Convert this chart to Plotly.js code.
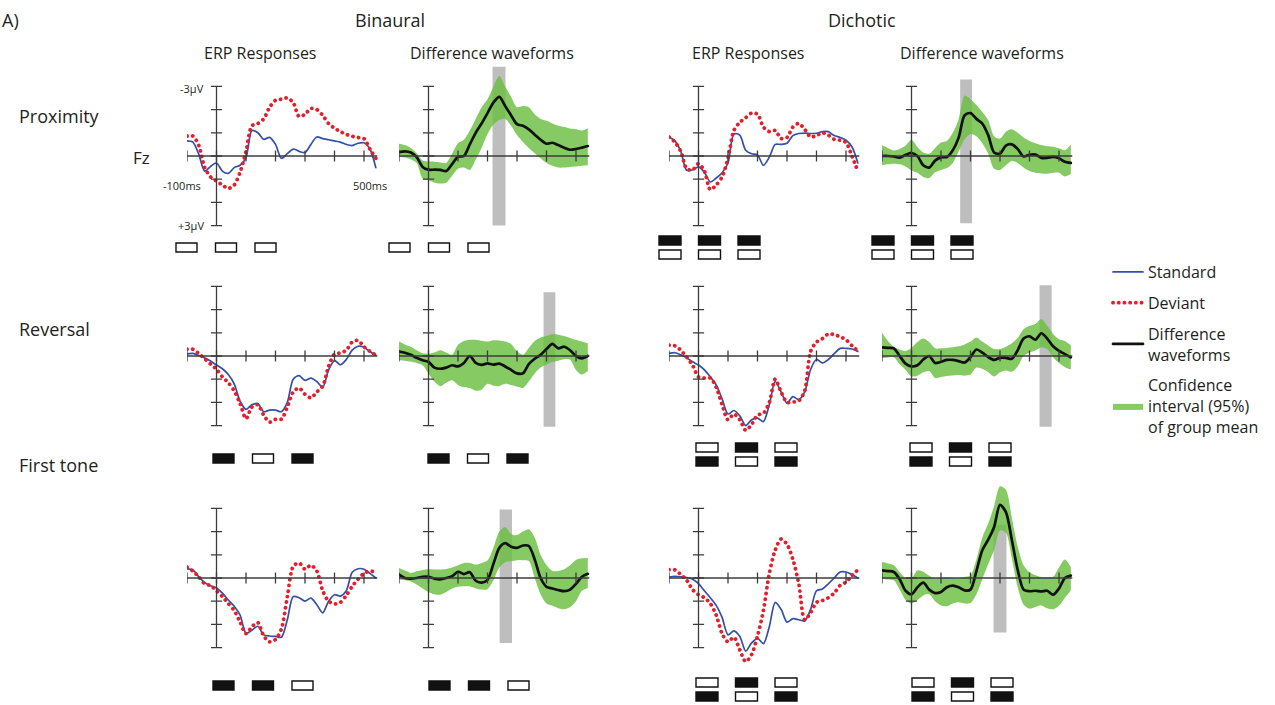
<!DOCTYPE html>
<html><head><meta charset="utf-8">
<script src="https://cdn.plot.ly/plotly-3.0.1.min.js"></script>
<style>html,body{margin:0;padding:0;background:#fff}#chart{width:1275px;height:705px}
#chart .scatterlayer .js-line{stroke-linecap:round}
#chart .legend .js-line{stroke-linecap:round}
</style>
</head><body><div id="chart"></div>
<script>
// ---------- data ----------
const timeMs = [-100,-80,-60,-40,-20,0,20,40,60,80,100,120,140,160,180,200,220,240,260,280,300,320,340,360,380,400,420,440,460,480,500,520,540];
const xTicks = [-100,0,100,200,300,400,500];
const yTicks = [-3,-2,-1,0,1,2,3];
const conditions = ["Proximity","Reversal","First tone"];
const presentations = ["Binaural","Dichotic"];
const columnTitles = ["ERP Responses","Difference waveforms","ERP Responses","Difference waveforms"];

// Proximity
const binProxStd = [-0.65,-0.6,-0.07,0.65,0.45,0.3,0.65,0.75,0.5,0.4,0.07,-1.1,-1.0,-0.72,-0.8,-0.5,0.1,-0.1,-0.3,-0.2,-0.15,-0.5,-0.82,-0.75,-0.7,-0.65,-0.6,-0.5,-0.45,-0.55,-0.57,-0.3,0.5];
const binProxDev = [-0.86,-0.86,-0.45,0.5,0.9,1.08,1.25,1.4,1.25,0.7,-0.2,-1.3,-1.4,-1.6,-2.1,-2.4,-2.45,-2.5,-2.3,-1.7,-1.8,-2.05,-2.0,-1.75,-1.4,-1.2,-1.05,-0.93,-0.85,-0.8,-0.75,-0.3,0.1];
const binProxDiff = [-0.17,-0.2,-0.15,0.05,0.47,0.59,0.59,0.6,0.65,0.35,0.03,0.0,-0.5,-1.0,-1.4,-1.85,-2.3,-2.55,-2.15,-1.75,-1.37,-1.3,-1.15,-0.92,-0.7,-0.53,-0.57,-0.47,-0.36,-0.27,-0.3,-0.36,-0.43];
const binProxLo = [-0.53,-0.47,-0.35,-0.12,0.19,0.23,0.25,0.28,0.3,-0.1,-0.55,-0.7,-1.1,-1.6,-2.1,-2.45,-3.0,-3.45,-3.0,-2.55,-2.1,-2.15,-2.1,-1.8,-1.6,-1.52,-1.4,-1.3,-1.25,-1.18,-1.15,-1.1,-1.2];
const binProxHi = [0.04,0.07,0.15,0.3,0.98,1.05,1.15,1.19,1.15,0.85,0.55,0.5,0.6,0.15,-0.35,-0.95,-1.35,-1.55,-1.6,-1.3,-0.9,-0.6,-0.35,-0.12,0.1,0.3,0.42,0.5,0.5,0.47,0.45,0.42,0.4];
const dicProxStd = [-0.82,-0.65,-0.2,0.62,0.6,0.47,0.7,1.12,0.95,0.72,0.3,-0.95,-0.9,-0.25,-0.1,-0.05,0.4,0.05,-0.5,-0.5,-0.55,-0.88,-0.97,-0.99,-0.97,-0.98,-1.05,-1.05,-0.88,-0.8,-0.68,-0.4,0.3];
const dicProxDev = [-0.82,-0.6,-0.2,0.55,0.6,0.33,0.65,1.45,1.25,0.9,0.1,-1.1,-1.45,-1.65,-1.85,-1.8,-1.25,-1.05,-1.1,-0.75,-0.8,-1.25,-1.4,-1.15,-0.82,-0.88,-1.0,-0.9,-0.72,-0.68,-0.58,0.0,0.65];
const dicProxDiff = [0,0,0.02,0.07,-0.05,-0.13,0,0.4,0.5,0.2,0.06,0.04,-0.25,-0.8,-1.75,-1.85,-1.6,-1.4,-0.9,-0.15,-0.1,-0.45,-0.5,-0.3,0.02,-0.05,-0.06,0.08,0.08,0.04,0.1,0.25,0.3];
const dicProxLo = [-0.46,-0.35,-0.24,-0.3,-0.45,-0.7,-0.39,-0.15,-0.1,-0.35,-0.58,-0.65,-1.0,-1.6,-2.6,-2.45,-2.2,-1.9,-1.55,-0.85,-0.75,-1.05,-1.15,-1.0,-0.8,-0.65,-0.55,-0.47,-0.42,-0.4,-0.33,-0.25,-0.5];
const dicProxHi = [0.4,0.36,0.33,0.36,0.45,0.62,0.72,0.9,0.95,0.7,0.6,0.52,0.3,-0.2,-0.72,-0.95,-0.85,-0.55,-0.1,0.55,0.6,0.4,0.22,0.3,0.5,0.65,0.72,0.75,0.76,0.72,0.72,0.88,0.78];
// Reversal
const binRevStd = [-0.09,-0.11,-0.02,0.08,0.22,0.39,0.55,0.8,1.2,1.95,2.3,2.1,2.05,2.4,2.33,2.33,2.4,2.0,1.0,0.85,1.05,0.95,1.1,1.35,0.6,0.2,0.38,0.15,-0.25,-0.42,-0.38,-0.18,-0.04];
const binRevDev = [-0.3,-0.29,-0.1,0.12,0.35,0.57,0.9,1.15,1.5,2.05,2.7,2.2,2.1,2.55,2.85,2.73,2.72,2.2,1.55,1.38,1.65,1.8,1.55,1.3,0.45,-0.08,-0.13,-0.25,-0.6,-0.67,-0.4,-0.2,-0.04];
const binRevDiff = [-0.19,-0.14,-0.05,0.08,0.18,0.26,0.5,0.55,0.5,0.4,0.45,0.3,0.0,0.3,0.38,0.32,0.37,0.33,0.45,0.6,0.75,0.75,0.35,0.12,-0.05,-0.3,-0.52,-0.33,-0.4,-0.25,0.0,0.1,0.0];
const binRevLo = [-0.62,-0.5,-0.4,-0.25,-0.12,-0.1,-0.15,-0.25,-0.15,-0.05,-0.48,-0.65,-0.7,-0.7,-0.66,-0.62,-0.68,-0.67,-0.62,-0.52,-0.2,-0.05,-0.35,-0.65,-0.8,-0.86,-0.95,-0.92,-0.86,-0.78,-0.7,-0.62,-0.55];
const binRevHi = [0.17,0.2,0.24,0.3,0.4,0.75,1.1,1.3,1.15,1.05,1.25,1.35,1.38,1.5,1.45,1.2,1.28,1.3,1.2,1.25,1.32,1.38,1.1,0.75,0.5,0.37,0.26,0.2,0.14,0.16,0.6,0.8,0.65];
const dicRevStd = [-0.11,-0.14,-0.05,0.08,0.25,0.39,0.6,0.9,1.25,1.85,2.5,2.35,2.58,3.0,2.75,2.68,2.83,2.1,1.1,1.55,2.03,1.75,1.88,1.55,0.58,0.15,0.3,0.15,-0.1,-0.33,-0.33,-0.3,-0.2];
const dicRevDev = [-0.47,-0.44,-0.25,0.05,0.4,0.9,0.95,0.95,1.35,2.1,2.75,2.5,2.75,3.2,2.95,2.55,2.47,2.0,1.0,1.55,2.0,1.98,1.93,1.5,-0.2,-0.6,-0.75,-0.95,-0.92,-0.83,-0.7,-0.45,-0.22];
const dicRevDiff = [-0.37,-0.35,-0.33,0.0,0.33,0.45,0.4,0.15,0.0,0.3,0.25,0.17,0.17,0.22,0.28,0.05,-0.28,-0.15,0.05,0.17,0.08,0.08,0.12,-0.25,-0.75,-0.85,-0.7,-0.98,-0.75,-0.42,-0.22,-0.08,0.06];
const dicRevLo = [-1.0,-0.65,-0.4,-0.28,-0.22,-0.35,-0.6,-0.75,-0.6,-0.33,-0.33,-0.35,-0.38,-0.42,-0.5,-0.62,-0.8,-0.62,-0.45,-0.3,-0.3,-0.4,-0.55,-0.78,-1.15,-1.3,-1.38,-1.6,-1.3,-0.95,-0.72,-0.65,-0.47];
const dicRevHi = [0.1,0.06,0.05,0.35,0.6,0.88,0.85,0.7,0.65,0.95,0.9,0.86,0.84,0.82,0.85,0.8,0.5,0.55,0.7,0.88,0.7,0.62,0.68,0.45,0.0,-0.15,-0.24,-0.38,-0.3,0.05,0.3,0.48,0.58];
// First tone
const binFirstStd = [-0.39,-0.34,-0.05,0.2,0.33,0.43,0.65,0.95,1.22,1.6,2.38,2.25,2.08,2.45,2.5,2.52,2.55,1.8,0.8,0.85,1.0,0.87,1.15,1.5,1.0,0.72,0.78,0.55,-0.25,-0.4,-0.38,-0.2,0.0];
const binFirstDev = [-0.47,-0.3,-0.05,0.25,0.33,0.55,0.8,1.1,1.4,1.9,2.4,2.1,1.92,2.5,2.75,2.65,2.2,0.8,-0.5,-0.65,-0.38,-0.55,-0.3,0.55,1.0,1.12,1.05,0.75,0.36,0.05,-0.2,-0.3,-0.25];
const binFirstDiff = [-0.14,0.0,0.03,0.0,-0.05,-0.05,0.03,0.06,0.0,-0.08,-0.27,-0.17,-0.25,0.12,0.2,0.08,-0.6,-1.3,-1.5,-1.35,-1.3,-1.4,-1.38,-0.8,0.0,0.38,0.45,0.52,0.57,0.5,0.25,-0.05,-0.18];
const binFirstLo = [-0.43,-0.32,-0.22,-0.29,-0.35,-0.38,-0.37,-0.37,-0.39,-0.45,-0.55,-0.65,-0.65,-0.58,-0.65,-0.75,-1.3,-2.0,-2.2,-1.9,-1.85,-2.0,-2.1,-1.75,-1.0,-0.55,-0.3,-0.3,-0.38,-0.55,-0.78,-0.85,-0.86];
const binFirstHi = [0.07,0.1,0.15,0.28,0.45,0.6,0.7,0.72,0.6,0.45,0.38,0.36,0.36,0.45,0.5,0.48,0.1,-0.45,-0.68,-0.73,-0.77,-0.77,-0.73,0.0,0.7,1.1,1.2,1.3,1.35,1.25,1.0,0.55,0.43];
const dicFirstStd = [-0.04,-0.07,-0.05,-0.02,0.05,0.24,0.55,0.85,1.18,1.7,2.45,2.28,2.52,3.15,2.8,2.6,2.83,2.1,1.05,1.35,1.9,1.75,1.8,1.85,1.35,0.55,0.47,0.25,0.0,-0.26,-0.26,-0.15,0.0];
const dicFirstDev = [-0.36,-0.35,-0.15,0.1,0.5,0.72,0.85,1.1,1.6,2.4,2.75,2.55,3.1,3.6,3.3,2.5,1.4,-0.2,-1.2,-1.68,-1.45,-0.8,0.25,1.8,1.5,1.05,0.97,0.85,0.65,0.32,0.18,-0.1,-0.35];
const dicFirstDiff = [-0.33,-0.3,-0.26,0.05,0.55,0.7,0.4,0.2,0.5,0.65,0.6,0.4,0.33,0.4,0.53,0.5,-0.3,-1.2,-1.65,-2.2,-3.15,-2.84,-1.65,-0.35,0.5,0.57,0.55,0.58,0.55,0.72,0.45,0.0,-0.1];
const dicFirstLo = [-0.69,-0.63,-0.55,-0.25,0.0,0.02,-0.33,-0.27,-0.1,0.02,-0.02,-0.03,0.0,0.02,-0.05,-0.11,-0.8,-1.75,-2.35,-3.1,-3.95,-3.8,-2.6,-1.35,-0.55,-0.25,-0.12,-0.04,-0.04,-0.05,-0.45,-0.8,-0.47];
const dicFirstHi = [0.03,0.06,0.1,0.5,0.95,1.1,0.95,0.75,0.7,1.0,1.18,1.22,1.1,1.05,1.1,1.08,0.7,0.05,-0.6,-1.2,-2.05,-1.95,-0.85,0.4,1.15,1.32,1.25,1.18,1.3,1.35,1.2,0.85,0.55];

// analysis windows (ms) and their vertical extent (µV)
const binProxWin = [217,261], binProxWinV = [-3.85,3.0];
const dicProxWin = [165,205], dicProxWinV = [-3.3,2.9];
const binRevWin = [390,430], binRevWinV = [-2.75,3.05];
const dicRevWin = [434,475], dicRevWinV = [-3.05,3.05];
const binFirstWin = [241,283], binFirstWinV = [-2.95,2.8];
const dicFirstWin = [278,322], dicFirstWinV = [-2.3,2.35];

// stimulus schematics: 'f' filled, 'o' open
const binStim = [['o','o','o'],['f','o','f'],['f','f','o']];
const dicStimTop = [['f','f','f'],['o','f','o'],['o','f','o']];
const dicStimBottom = [['o','o','o'],['f','o','f'],['f','o','f']];

// ---------- layout helpers ----------
const W = 1275, H = 705;
const FONT = '"Open Sans", "Noto Sans", sans-serif';
const TXT = '#231f20';
const pxPer100ms = 29.5, pxPerUV = 23.2;
const xRange = [-100, 550];
const colX0 = [187, 399, 669, 882];
const rowZero = [156, 356, 578];
const rowRange = [[-4.0, 3.4], [-3.4, 3.8], [-4.5, 4.0]];
const px2x = p => p / W, px2y = p => 1 - p / H;

const BLUE = 'rgb(50,80,168)', RED = 'rgb(228,30,42)', GREEN = 'rgba(106,190,64,0.82)', GRAY = 'rgb(190,190,190)', AX = '#3c3c3c';

const panels = [
  {r:0,c:0,kind:'erp',std:binProxStd,dev:binProxDev},
  {r:0,c:1,kind:'diff',mean:binProxDiff,lo:binProxLo,hi:binProxHi,win:binProxWin,winV:binProxWinV},
  {r:0,c:2,kind:'erp',std:dicProxStd,dev:dicProxDev},
  {r:0,c:3,kind:'diff',mean:dicProxDiff,lo:dicProxLo,hi:dicProxHi,win:dicProxWin,winV:dicProxWinV},
  {r:1,c:0,kind:'erp',std:binRevStd,dev:binRevDev},
  {r:1,c:1,kind:'diff',mean:binRevDiff,lo:binRevLo,hi:binRevHi,win:binRevWin,winV:binRevWinV},
  {r:1,c:2,kind:'erp',std:dicRevStd,dev:dicRevDev},
  {r:1,c:3,kind:'diff',mean:dicRevDiff,lo:dicRevLo,hi:dicRevHi,win:dicRevWin,winV:dicRevWinV},
  {r:2,c:0,kind:'erp',std:binFirstStd,dev:binFirstDev},
  {r:2,c:1,kind:'diff',mean:binFirstDiff,lo:binFirstLo,hi:binFirstHi,win:binFirstWin,winV:binFirstWinV},
  {r:2,c:2,kind:'erp',std:dicFirstStd,dev:dicFirstDev},
  {r:2,c:3,kind:'diff',mean:dicFirstDiff,lo:dicFirstLo,hi:dicFirstHi,win:dicFirstWin,winV:dicFirstWinV},
];

const layout = {
  width: W, height: H, margin: {l:0,r:0,t:0,b:0},
  paper_bgcolor: '#fff', plot_bgcolor: 'rgba(0,0,0,0)',
  showlegend: true, hovermode: false,
  font: {family: FONT, color: TXT},
  legend: {x: px2x(1108), y: px2y(255), xanchor: 'left', yanchor: 'top',
           font: {family: FONT, size: 16, color: TXT}, bgcolor: 'rgba(0,0,0,0)',
           tracegroupgap: 7, itemwidth: 30, traceorder: 'grouped'},
  shapes: [], annotations: []
};
const data = [];

panels.forEach((p, i) => {
  const n = i + 1, xa = 'x' + n, ya = 'y' + n;
  const xStart = colX0[p.c], xEnd = xStart + (xRange[1] - xRange[0]) / 100 * pxPer100ms;
  const [lo, hi] = rowRange[p.r];
  const top = rowZero[p.r] + lo * pxPerUV, bottom = rowZero[p.r] + hi * pxPerUV;
  layout['xaxis' + n] = {domain: [px2x(xStart), px2x(xEnd)], range: xRange, visible: false, fixedrange: true, anchor: ya};
  layout['yaxis' + n] = {domain: [px2y(bottom), px2y(top)], range: [hi, lo], visible: false, fixedrange: true, anchor: xa};

  if (p.kind === 'diff') {
    layout.shapes.push({type:'rect', xref:xa, yref:ya, x0:p.win[0], x1:p.win[1], y0:p.winV[0], y1:p.winV[1],
      fillcolor: GRAY, line:{width:0}, layer:'below'});
    data.push({type:'scatter', mode:'lines', x:timeMs, y:p.lo, xaxis:xa, yaxis:ya,
      line:{width:0, shape:'spline', smoothing:0.8}, showlegend:false, hoverinfo:'skip'});
    data.push({type:'scatter', mode:'lines', x:timeMs, y:p.hi, xaxis:xa, yaxis:ya, fill:'tonexty', fillcolor:GREEN,
      line:{width:0, shape:'spline', smoothing:0.8, color:GREEN}, name:'Confidence<br>interval (95%)<br>of group mean',
      legendrank: 4, showlegend: i === 1, legendgroup:'ci', hoverinfo:'skip'});
    data.push({type:'scatter', mode:'lines', x:timeMs, y:p.mean, xaxis:xa, yaxis:ya,
      line:{width:2.7, color:'#111', shape:'spline', smoothing:0.8}, name:'Difference<br>waveforms',
      legendrank: 3, showlegend: i === 1, legendgroup:'diff', hoverinfo:'skip'});
  } else {
    data.push({type:'scatter', mode:'lines', x:timeMs, y:p.std, xaxis:xa, yaxis:ya,
      line:{width:1.7, color:BLUE, shape:'spline', smoothing:0.8}, name:'Standard',
      legendrank: 1, showlegend: i === 0, legendgroup:'std', hoverinfo:'skip'});
    data.push({type:'scatter', mode:'lines', x:timeMs, y:p.dev, xaxis:xa, yaxis:ya,
      line:{width:3.8, color:RED, dash:'0.1px,5.6px', shape:'spline', smoothing:0.8}, name:'Deviant',
      legendrank: 2, showlegend: i === 0, legendgroup:'dev', hoverinfo:'skip'});
  }
  // axes through the origin
  layout.shapes.push({type:'line', xref:xa, yref:ya, x0:xTicks[0], x1:545, y0:0, y1:0, line:{color:AX, width:1.3}, layer:'above'});
  layout.shapes.push({type:'line', xref:xa, yref:ya, x0:0, x1:0, y0:yTicks[0], y1:yTicks[yTicks.length-1], line:{color:AX, width:1.3}, layer:'above'});
  data.push({type:'scatter', mode:'markers', xaxis:xa, yaxis:ya, showlegend:false, hoverinfo:'skip',
    x: xTicks.concat(yTicks.map(() => 0)), y: xTicks.map(() => 0).concat(yTicks),
    marker:{size:8, color:AX, symbol: xTicks.map(() => 'line-ns').concat(yTicks.map(() => 'line-ew')), line:{width:1.3, color:AX}}});
});

// ---------- stimulus schematics ----------
const stimRows = [
  {binY: 243, dicTopY: 236, dicBotY: 250, col: [176, 389, 659, 872]},
  {binY: 454, dicTopY: 443, dicBotY: 457, col: [213, 428, 696, 910]},
  {binY: 681, dicTopY: 678, dicBotY: 692, col: [213, 429, 696, 912]},
];
function box(x, y, w, h, kind) {
  layout.shapes.push({type:'rect', xref:'paper', yref:'paper', x0:px2x(x), x1:px2x(x + w), y0:px2y(y + h), y1:px2y(y),
    fillcolor: kind === 'f' ? '#111' : '#fff', line:{color:'#111', width:1.4}});
}
stimRows.forEach((sr, r) => {
  for (let c = 0; c < 4; c++) {
    for (let k = 0; k < 3; k++) {
      const x = sr.col[c] + k * 39.5;
      if (c < 2) box(x, sr.binY, 21, 9, binStim[r][k]);
      else { box(x, sr.dicTopY, 22, 9, dicStimTop[r][k]); box(x, sr.dicBotY, 22, 9, dicStimBottom[r][k]); }
    }
  }
});

// ---------- text ----------
function note(text, xpx, ypx, size, anchor) {
  layout.annotations.push({text, xref:'paper', yref:'paper', x:px2x(xpx), y:px2y(ypx), xanchor: anchor || 'center', yanchor:'middle',
    showarrow:false, font:{family:FONT, size, color:TXT}});
}
note('A)', 0, 20, 18, 'left');
note(presentations[0], 390, 20, 18);
note(presentations[1], 862, 20, 18);
[260, 492, 748, 982].forEach((x, i) => note(columnTitles[i], x, 53, 16));
[116, 329, 465].forEach((y, i) => note(conditions[i], 17, y, 18, 'left'));
note('Fz', 141, 157, 17);
const tickLbl = (text, x, y, xanchor, xshift, yshift) => layout.annotations.push({text, xref:'x1', yref:'y1', x, y, xanchor, yanchor:'middle',
  xshift, yshift, showarrow:false, font:{family:FONT, size:11, color:TXT}});
tickLbl('-3µV', 0, yTicks[0], 'right', -11, -2);
tickLbl('+3µV', 0, yTicks[yTicks.length-1], 'right', -11, 0);
tickLbl('-100ms', xTicks[0], 1.25, 'center', -5, 0);
tickLbl('500ms', xTicks[xTicks.length-1], 1.25, 'center', 6, 0);

Plotly.newPlot('chart', data, layout, {staticPlot: true, displayModeBar: false});
</script>
</body></html>
